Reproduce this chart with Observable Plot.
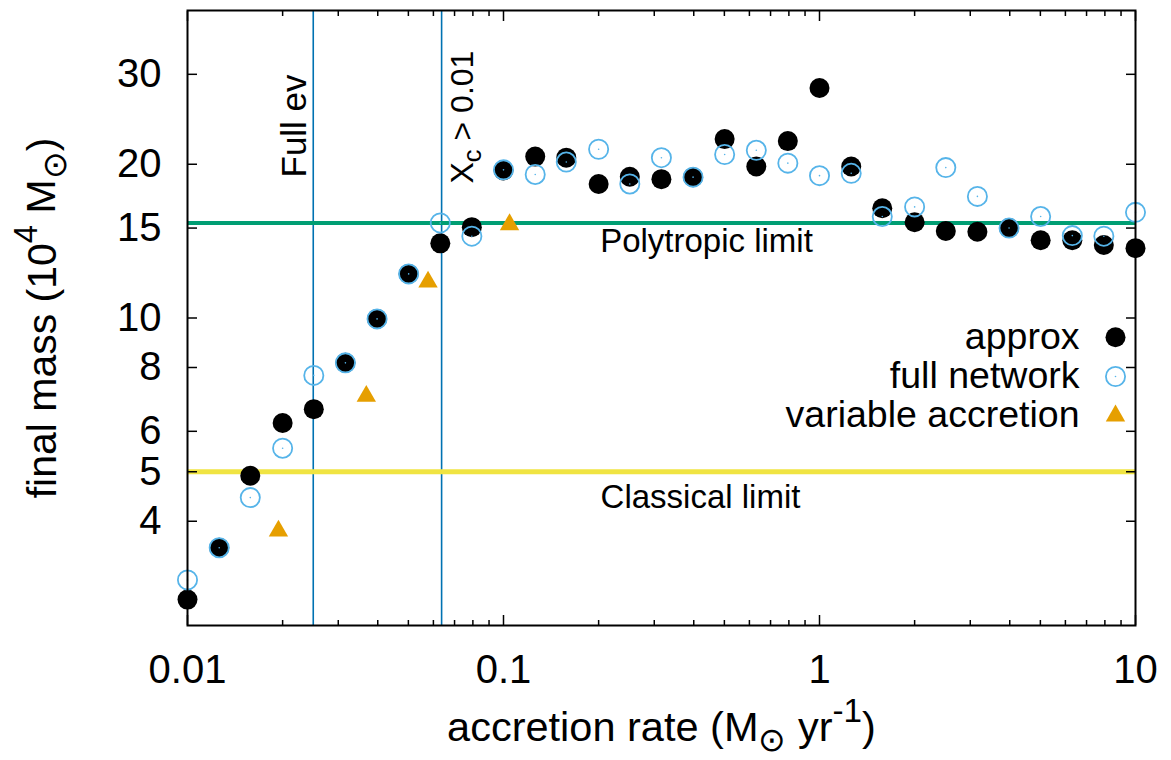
<!DOCTYPE html>
<html><head><meta charset="utf-8">
<script src="https://cdn.jsdelivr.net/npm/d3@7"></script>
<script src="https://cdn.jsdelivr.net/npm/@observablehq/plot@0.6"></script>
<style>
body{margin:0;background:#fff}
#chart svg{font-family:"Liberation Sans",Arial,Helvetica,sans-serif;background:#fff}
</style>
</head><body><div id="chart"></div>
<script>
// accretion rate (Msun/yr)
const rates = [0.01,0.0126,0.0158,0.02,0.0251,0.0316,0.0398,0.0501,0.0631,0.0794,0.1,0.126,0.158,0.2,0.251,0.316,0.398,0.501,0.631,0.794,1,1.26,1.58,2,2.51,3.16,3.98,5.01,6.31,7.94,10];
// final mass (1e4 Msun)
const approxMass = [2.81,3.55,4.91,6.23,6.63,8.17,9.96,12.2,14.0,15.06,19.45,20.7,20.6,18.3,18.9,18.7,18.87,22.4,19.8,22.2,28.2,19.8,16.4,15.4,14.8,14.75,15.0,14.2,14.2,13.9,13.7];
const fullMass = [3.07,3.55,4.45,5.56,7.72,8.17,9.96,12.2,15.35,14.46,19.5,19.1,20.2,21.4,18.3,20.6,18.87,20.9,21.3,20.1,19.0,19.2,15.8,16.5,19.7,17.3,15.0,15.8,14.5,14.46,16.1];
const variableRates = [0.0194,0.0368,0.0577,0.1045];
const variableMass = [3.83,7.03,11.77,15.24];
const polytropicLimit = 15.35;
const classicalLimit = 5.0;
const fullEvRate = 0.025;
const xcRate = 0.0637;
const xTicks = [0.01,0.1,1,10];
const xMinor = [0.02,0.03,0.04,0.05,0.06,0.07,0.08,0.09,0.2,0.3,0.4,0.5,0.6,0.7,0.8,0.9,2,3,4,5,6,7,8,9];
const yTicks = [4,5,6,8,10,15,20,30];
const legendLabels = ["approx","full network","variable accretion"];

const approxData = rates.map((r,i)=>({rate:r, mass:approxMass[i]}));
const fullData = rates.map((r,i)=>({rate:r, mass:fullMass[i]}));
const varData = variableRates.map((r,i)=>({rate:r, mass:variableMass[i]}));

const BLUE = "#56b4e9", ORANGE = "#e69f00", GREEN = "#009e73", YELLOW = "#f0e442", DBLUE = "#0072b2";
const none = () => "";

const chart = Plot.plot({
  width: 1171, height: 760,
  marginLeft: 187, marginRight: 36, marginTop: 10, marginBottom: 135,
  style: {fontSize: "40px", color: "black"},
  x: {type: "log", domain: [0.01, 10], label: null},
  y: {type: "log", domain: [2.5, 40], label: null},
  marks: [
    Plot.ruleX([fullEvRate, xcRate], {stroke: DBLUE, strokeWidth: 1.6}),
    Plot.ruleY([polytropicLimit], {stroke: GREEN, strokeWidth: 4}),
    Plot.ruleY([classicalLimit], {stroke: YELLOW, strokeWidth: 5}),
    Plot.text(["Full ev"], {x: [fullEvRate], frameAnchor: "top", dy: 167, dx: -7, rotate: -90, textAnchor: "start", lineAnchor: "bottom", fontSize: 35}),
    Plot.text(["Xc > 0.01"], {x: [xcRate], frameAnchor: "top", dy: 173, dx: 31, rotate: -90, textAnchor: "start", lineAnchor: "bottom", fontSize: 32}),
    Plot.text(["Polytropic limit"], {y: [polytropicLimit], frameAnchor: "left", dx: 519, dy: 29.5, textAnchor: "middle", lineAnchor: "bottom", fontSize: 33}),
    Plot.text(["Classical limit"], {y: [classicalLimit], frameAnchor: "left", dx: 513, dy: 36, textAnchor: "middle", lineAnchor: "bottom", fontSize: 33}),
    Plot.dot(approxData, {x: "rate", y: "mass", r: 10, fill: "black"}),
    Plot.dot(fullData, {x: "rate", y: "mass", r: 9.6, fill: "none", stroke: BLUE, strokeWidth: 1.8}),
    Plot.dot(fullData, {x: "rate", y: "mass", r: 0.8, fill: BLUE}),
    Plot.dot(varData, {x: "rate", y: "mass", symbol: "triangle", r: 7.2, fill: ORANGE}),
    Plot.frame({stroke: "black", strokeWidth: 2}),
    // ticks (inward, mirrored)
    Plot.axisX({anchor: "bottom", ticks: xTicks, tickSize: 0, tickPadding: 29, tickFormat: d => String(d), fontSize: 40, label: null}),
    Plot.axisX({anchor: "bottom", ticks: xTicks, tickSize: -10, tickFormat: none, strokeWidth: 1.5, label: null}),
    Plot.axisX({anchor: "bottom", ticks: xMinor, tickSize: -5, tickFormat: none, strokeWidth: 1.5, label: null}),
    Plot.axisX({anchor: "top", ticks: xTicks, tickSize: -10, tickFormat: none, strokeWidth: 1.5, label: null}),
    Plot.axisX({anchor: "top", ticks: xMinor, tickSize: -5, tickFormat: none, strokeWidth: 1.5, label: null}),
    Plot.axisY({anchor: "left", ticks: yTicks, tickSize: 0, tickPadding: 26, tickFormat: d => String(d), fontSize: 40, label: null}),
    Plot.axisY({anchor: "left", ticks: yTicks, tickSize: -10, tickFormat: none, strokeWidth: 1.5, label: null}),
    Plot.axisY({anchor: "right", ticks: yTicks, tickSize: -10, tickFormat: none, strokeWidth: 1.5, label: null}),
    // axis titles
    Plot.text(["accretion rate (M⊙ yr-1)"], {frameAnchor: "bottom", dy: 115, textAnchor: "middle", lineAnchor: "bottom", fontSize: 41.5}),
    Plot.text(["final mass (104 M⊙)"], {frameAnchor: "left", dx: -132, rotate: -90, textAnchor: "middle", lineAnchor: "bottom", fontSize: 41}),
    // legend
    Plot.text([legendLabels[0]], {frameAnchor: "top-right", dx: -56, dy: 338, textAnchor: "end", lineAnchor: "bottom", fontSize: 37.5}),
    Plot.text([legendLabels[1]], {frameAnchor: "top-right", dx: -56, dy: 377.3, textAnchor: "end", lineAnchor: "bottom", fontSize: 37.5}),
    Plot.text([legendLabels[2]], {frameAnchor: "top-right", dx: -56, dy: 416.7, textAnchor: "end", lineAnchor: "bottom", fontSize: 37.5}),
    Plot.dot([0], {frameAnchor: "top-right", dx: -20, dy: 326.7, r: 10, fill: "black"}),
    Plot.dot([0], {frameAnchor: "top-right", dx: -20, dy: 366, r: 9.6, fill: "none", stroke: BLUE, strokeWidth: 1.8}),
    Plot.dot([0], {frameAnchor: "top-right", dx: -20, dy: 366, r: 0.8, fill: BLUE}),
    Plot.dot([0], {frameAnchor: "top-right", dx: -20, dy: 405.3, symbol: "triangle", r: 7.2, fill: ORANGE})
  ]
});
document.getElementById("chart").appendChild(chart);

// rich text: subscripts / superscripts
function richify(content, parts) {
  d3.select(chart).selectAll("text").filter(function(){ return this.textContent === content; }).each(function(){
    const t = d3.select(this);
    t.text(null);
    let shift = 0;
    for (const p of parts) {
      const s = t.append("tspan").text(p.t);
      let target = 0;
      if (p.sub) { s.attr("font-size", "0.8em"); target = 0.25; }
      if (p.sup) { s.attr("font-size", "0.8em"); target = -0.45; }
      const fs = (p.sub || p.sup) ? 0.8 : 1;
      const dyParent = target - shift;
      if (dyParent !== 0) s.attr("dy", (dyParent / fs).toFixed(3) + "em");
      shift = target;
    }
  });
}
richify("accretion rate (M⊙ yr-1)", [{t:"accretion rate (M"},{t:"⊙",sub:true},{t:" yr"},{t:"-1",sup:true},{t:")"}]);
richify("final mass (104 M⊙)", [{t:"final mass (10"},{t:"4",sup:true},{t:" M"},{t:"⊙",sub:true},{t:")"}]);
richify("Xc > 0.01", [{t:"X"},{t:"c",sub:true},{t:" > 0.01"}]);
</script>
</body></html>
